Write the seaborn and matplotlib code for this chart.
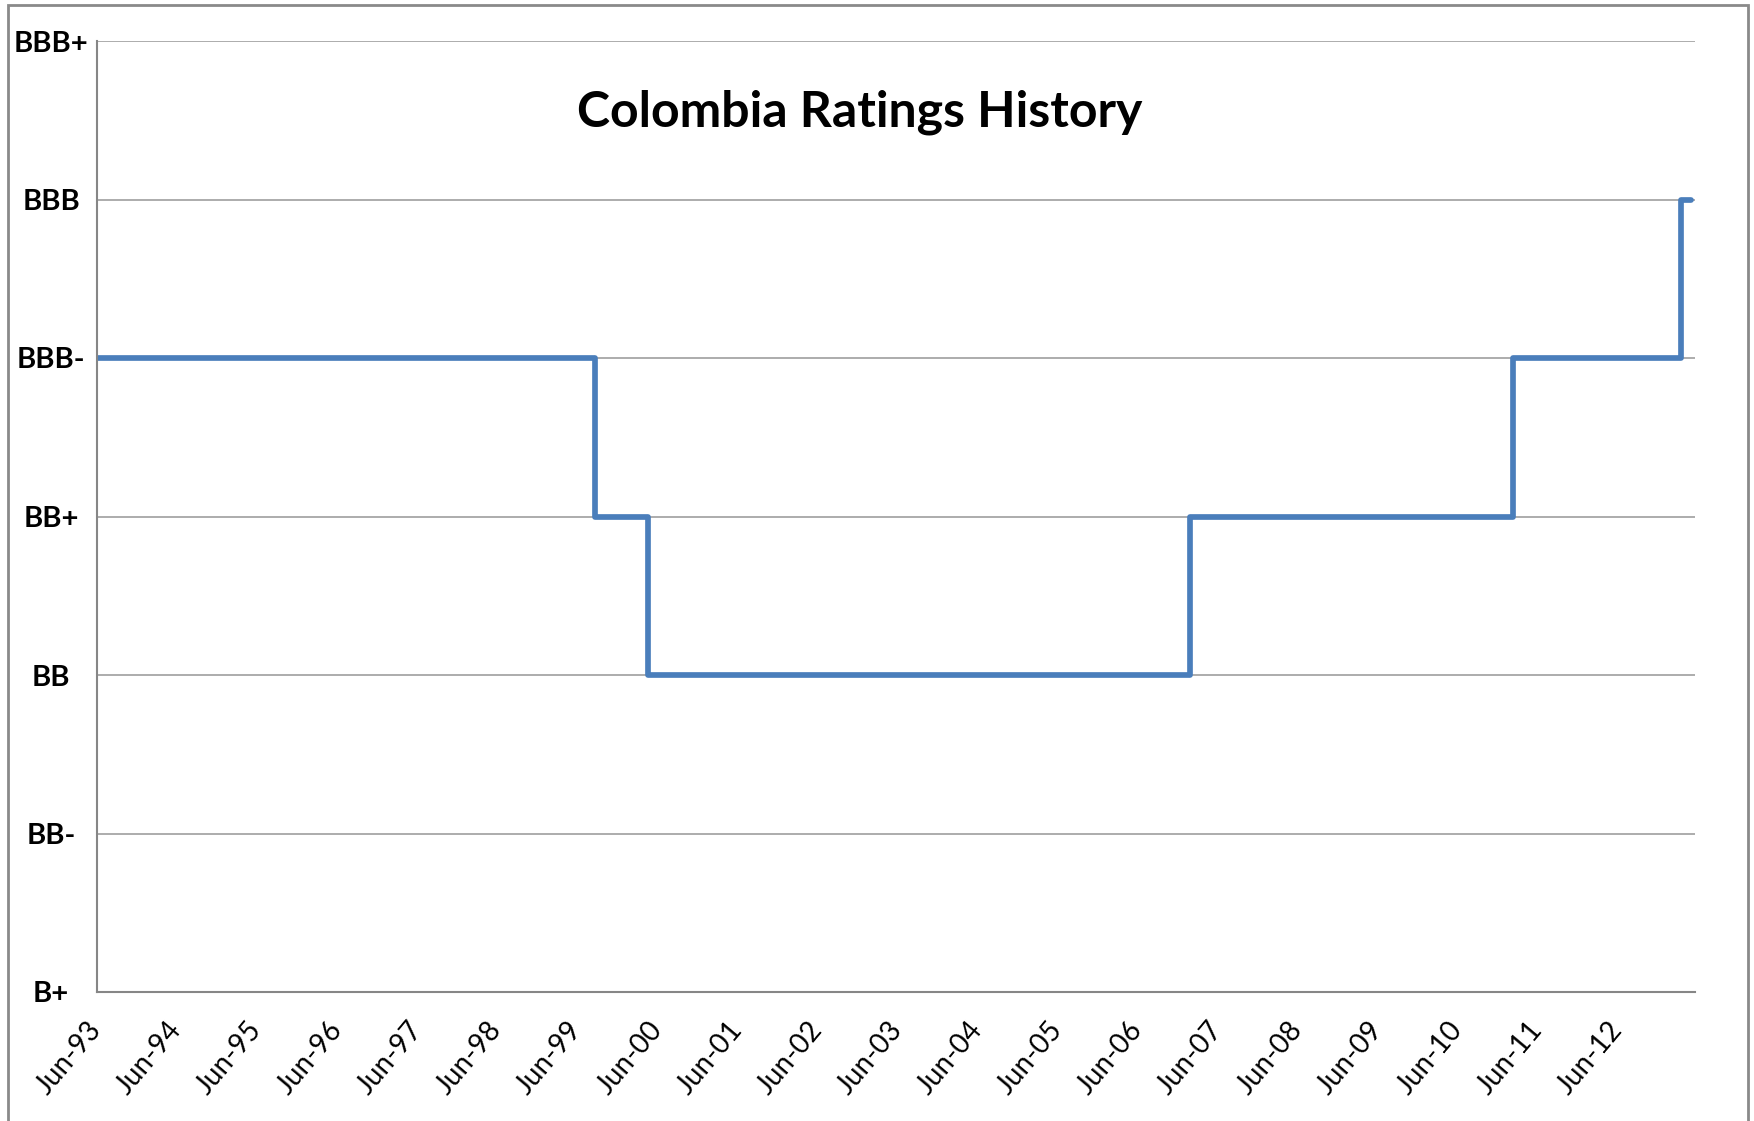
import numpy as np
import pandas as pd
import matplotlib.pyplot as plt
import matplotlib.dates as mdates
from matplotlib.patches import Rectangle
import seaborn as sns

# rating scale, bottom to top
rating_labels = ["B+", "BB-", "BB", "BB+", "BBB-", "BBB", "BBB+"]

# dates where the rating changed (last entry just ends the line)
change_dates = ["1993-06-01", "1999-08-20", "2000-04-20", "2007-01-25",
                "2011-02-10", "2013-03-15", "2013-05-01"]
change_ratings = ["BBB-", "BB+", "BB", "BB+", "BBB-", "BBB", "BBB"]

tick_years = list(range(1993, 2013))

df = pd.DataFrame({"date": pd.to_datetime(change_dates),
                   "rating": change_ratings})
df["level"] = df["rating"].map({r: i for i, r in enumerate(rating_labels)})

sns.set_style("white")
plt.rcParams["font.family"] = ["Lato", "DejaVu Sans"]
plt.rcParams["text.color"] = "black"
plt.rcParams["xtick.labelcolor"] = "black"
plt.rcParams["ytick.labelcolor"] = "black"

fig = plt.figure(figsize=(17.54, 11.21), dpi=100)
ax = fig.add_axes([97 / 1754, 1 - 992 / 1121, (1695 - 97) / 1754, (992 - 41) / 1121])

sns.lineplot(data=df, x="date", y="level", drawstyle="steps-post",
             color="#4a7ebb", lw=4.1, ax=ax)

ax.set_ylim(0, 6)
ax.set_yticks(range(len(rating_labels)))
ax.set_yticklabels(rating_labels, fontsize=21, fontweight="bold")
for lab in ax.get_yticklabels():
    lab.set_ha("center")
ax.tick_params(axis="y", length=0, pad=33)

ax.set_xlim(pd.Timestamp("1993-06-01"), pd.Timestamp("2013-05-20"))
ax.set_xticks(pd.to_datetime([f"{y}-06-01" for y in tick_years]))
ax.xaxis.set_major_formatter(mdates.DateFormatter("%b-%y"))
ax.tick_params(axis="x", length=9, width=1.2, color="#8c8c8c", pad=15,
               labelsize=20, rotation=50)
for lab in ax.get_xticklabels():
    lab.set_ha("right")
    lab.set_va("center")
    lab.set_rotation_mode("anchor")

ax.grid(axis="y", color="#a6a6a6", lw=1.3)
ax.set_axisbelow(True)
for side in ["top", "right"]:
    ax.spines[side].set_visible(False)
for side in ["left", "bottom"]:
    ax.spines[side].set_color("#868686")
    ax.spines[side].set_linewidth(1.5)
ax.set_xlabel("")
ax.set_ylabel("")

fig.text(860 / 1754, 1 - 112 / 1121, "Colombia Ratings History",
         fontsize=36, fontweight="bold", ha="center", va="center", color="black")

# outer chart frame
fig.patches.append(Rectangle((8 / 1754, -0.05), (1748 - 8) / 1754, 1.05 - 5 / 1121,
                             transform=fig.transFigure, fill=False,
                             edgecolor="#8a8a8a", lw=2))

fig.savefig("out.png", dpi=100)
